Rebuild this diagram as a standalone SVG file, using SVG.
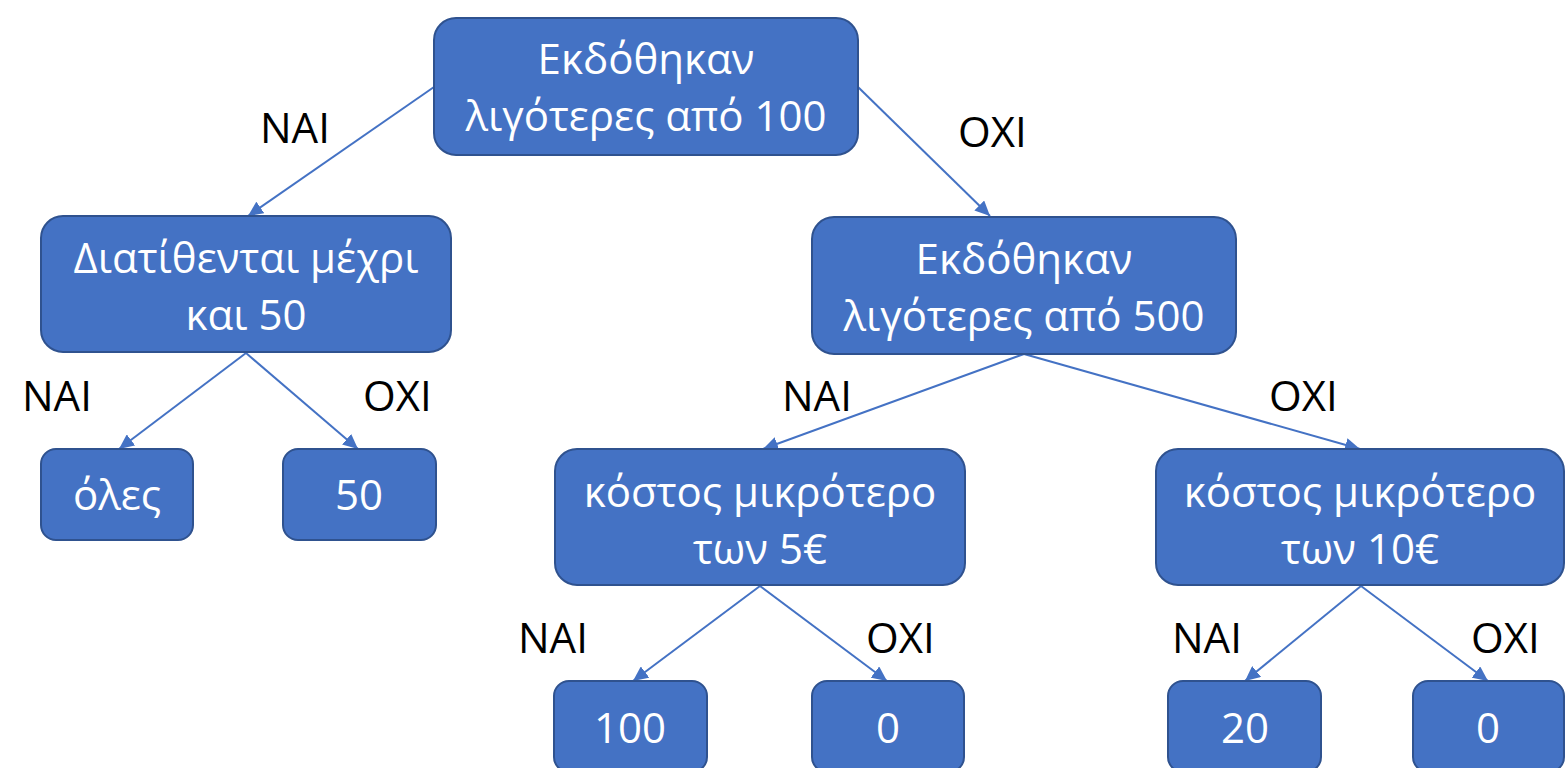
<svg xmlns="http://www.w3.org/2000/svg" width="1565" height="768" viewBox="0 0 1565 768">
  <defs>
    <style>
      .box { fill: #4472C4; stroke: #2F528F; stroke-width: 2; }
      .nt { fill: #FFFFFF; font-family: "Open Sans", "Noto Sans", sans-serif; font-size: 42px; text-anchor: middle; }
      .lbl { fill: #000000; font-family: "Open Sans", "Noto Sans", sans-serif; font-size: 42px; }
      .edge { stroke: #4472C4; stroke-width: 2; fill: none; marker-end: url(#arrow); }
    </style>
    <marker id="arrow" viewBox="0 0 15 14" refX="15" refY="7" markerWidth="15" markerHeight="14" markerUnits="userSpaceOnUse" orient="auto">
      <path d="M0,0 L15,7 L0,14 z" fill="#4472C4"/>
    </marker>
  </defs>
  <rect width="1565" height="768" fill="#FFFFFF"/>

  <!-- connectors -->
  <g id="connectors">
    <line class="edge" x1="434" y1="87" x2="248" y2="216"/>
    <line class="edge" x1="858" y1="87" x2="990" y2="216"/>
    <line class="edge" x1="246" y1="353" x2="119" y2="449"/>
    <line class="edge" x1="246" y1="353" x2="358" y2="449"/>
    <line class="edge" x1="1024" y1="354" x2="763" y2="449"/>
    <line class="edge" x1="1024" y1="354" x2="1360" y2="449"/>
    <line class="edge" x1="760" y1="586" x2="633" y2="681"/>
    <line class="edge" x1="760" y1="586" x2="887" y2="681"/>
    <line class="edge" x1="1361" y1="586" x2="1245" y2="681"/>
    <line class="edge" x1="1361" y1="586" x2="1488" y2="681"/>
  </g>

  <!-- branch labels -->
  <g id="labels">
    <text class="lbl" x="260" y="143">NAI</text>
    <text class="lbl" x="958" y="147">OXI</text>
    <text class="lbl" x="22" y="411">NAI</text>
    <text class="lbl" x="363" y="411">OXI</text>
    <text class="lbl" x="782" y="411">NAI</text>
    <text class="lbl" x="1269" y="411">OXI</text>
    <text class="lbl" x="518" y="653">NAI</text>
    <text class="lbl" x="866" y="653">OXI</text>
    <text class="lbl" x="1172" y="653">NAI</text>
    <text class="lbl" x="1471" y="653">OXI</text>
  </g>

  <g id="root">
    <rect class="box" x="434" y="18" width="424" height="137" rx="22"/>
    <text class="nt" x="646" y="74">Εκδόθηκαν</text>
    <text class="nt" x="646" y="131">λιγότερες από 100</text>
  </g>

  <g id="q-left">
    <rect class="box" x="41" y="216" width="410" height="136" rx="22"/>
    <text class="nt" x="246" y="273">Διατίθενται μέχρι</text>
    <text class="nt" x="246" y="330">και 50</text>
  </g>

  <g id="q-right">
    <rect class="box" x="812" y="217" width="424" height="137" rx="22"/>
    <text class="nt" x="1024" y="274">Εκδόθηκαν</text>
    <text class="nt" x="1024" y="331">λιγότερες από 500</text>
  </g>

  <g id="leaf-all">
    <rect class="box" x="41" y="449" width="152" height="91" rx="15"/>
    <text class="nt" x="117" y="510">όλες</text>
  </g>

  <g id="leaf-50">
    <rect class="box" x="283" y="449" width="153" height="91" rx="15"/>
    <text class="nt" x="359" y="510">50</text>
  </g>

  <g id="q-cost5">
    <rect class="box" x="555" y="449" width="410" height="136" rx="22"/>
    <text class="nt" x="760" y="507">κόστος μικρότερο</text>
    <text class="nt" x="760" y="564">των 5€</text>
  </g>

  <g id="q-cost10">
    <rect class="box" x="1156" y="449" width="408" height="136" rx="22"/>
    <text class="nt" x="1360" y="507">κόστος μικρότερο</text>
    <text class="nt" x="1360" y="564">των 10€</text>
  </g>

  <g id="leaf-100">
    <rect class="box" x="554" y="681" width="153" height="91" rx="15"/>
    <text class="nt" x="630" y="743">100</text>
  </g>

  <g id="leaf-0a">
    <rect class="box" x="812" y="681" width="152" height="91" rx="15"/>
    <text class="nt" x="888" y="743">0</text>
  </g>

  <g id="leaf-20">
    <rect class="box" x="1168" y="681" width="153" height="91" rx="15"/>
    <text class="nt" x="1245" y="743">20</text>
  </g>

  <g id="leaf-0b">
    <rect class="box" x="1413" y="681" width="151" height="91" rx="15"/>
    <text class="nt" x="1488" y="743">0</text>
  </g>
</svg>
